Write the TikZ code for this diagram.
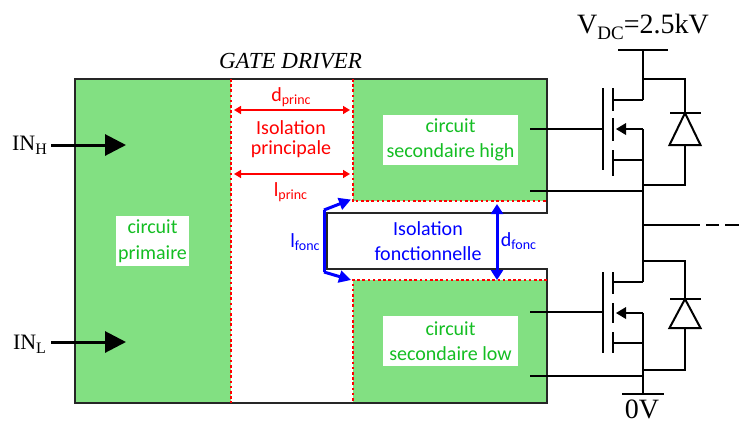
\documentclass[tikz,border=0pt]{standalone}
\usepackage{fontspec}
\setmainfont{Liberation Serif}
\newfontfamily\calibrifont{Carlito}
\usetikzlibrary{arrows.meta,positioning}
\definecolor{circuitfill}{RGB}{130,224,130}
\definecolor{circuittext}{RGB}{20,190,35}
\newcommand{\subtext}[3]{\raisebox{-#1pt}{\fontsize{#2}{#2}\selectfont #3}}
\begin{document}
\begin{tikzpicture}[x=1pt,y=-1pt]
\tikzstyle{circuit}=[fill=white,text=circuittext,font=\calibrifont\fontsize{20}{25.5}\selectfont,
align=center,inner sep=0pt]
\tikzstyle{wire}=[line width=2pt,draw=black]
\tikzstyle{reddots}=[draw=red,line width=2.5pt,dash pattern=on 2.6pt off 2.6pt]
\tikzstyle{redlabel}=[text=red,font=\calibrifont\fontsize{20}{20.5}\selectfont,align=center,inner sep=0pt]
\tikzstyle{bluelabel}=[text=blue,font=\calibrifont\fontsize{20}{24.5}\selectfont,align=center,inner sep=0pt]
\tikzstyle{serif}=[font=\fontsize{22}{22}\selectfont,inner sep=0pt,anchor=base]
\tikzstyle{inarrow}=[line width=3pt,-{Triangle[length=21pt,width=21pt]}]
\tikzstyle{redarrow}=[red,line width=1.5pt,{Triangle[length=7pt,width=8pt]}-{Triangle[length=7pt,width=8pt]}]
\tikzstyle{bluearrow}=[blue,line width=3pt,-{Triangle[length=12pt,width=12pt]}]
\useasboundingbox (0,0) rectangle (739,421);

% green blocks
\fill[circuitfill] (75,79) rectangle (231,403);
\fill[circuitfill] (353,79) rectangle (547,201);
\fill[circuitfill] (353,280) rectangle (547,403);
\draw[line width=2pt,black!85] (75,79) -- (547,79) -- (547,213) -- (327,213) -- (327,269)
  -- (547,269) -- (547,403) -- (75,403) -- cycle;
\draw[reddots] (231,79) -- (231,403);
\draw[reddots] (353,79) -- (353,201) -- (547,201);
\draw[reddots] (547,280) -- (353,280) -- (353,403);

% texts
\node[font=\itshape\fontsize{23}{23}\selectfont,inner sep=0pt,anchor=base] at (290.5,68) (title) {GATE DRIVER};
\node[circuit,minimum width=73pt,minimum height=50pt] at (152.5,241) (primaire) {circuit\\primaire};
\node[circuit,minimum width=135pt,minimum height=50pt] at (450.5,140) (high) {circuit\\secondaire high};
\node[circuit,minimum width=135pt,minimum height=50pt] at (450.5,341) (low) {circuit\\secondaire low};
\node[redlabel] at (291,139) (isoprinc) {Isolation\\principale};
\node[redlabel] at (291,97) (dprinc) {d\subtext{3}{14}{princ}};
\node[redlabel] at (290.5,192) (lprinc) {l\subtext{3}{14}{princ}};
\node[bluelabel] at (428,241) (isofonc) {Isolation\\fonctionnelle};
\node[bluelabel] at (305,242) (lfonc) {l\subtext{3}{14}{fonc}};
\node[bluelabel] at (518.5,241) (dfonc) {d\subtext{3}{14}{fonc}};

% red and blue dimensions
\coordinate (p1) at (234,110);
\coordinate (p2) at (350,110);
\coordinate (p3) at (234,174);
\coordinate (p4) at (350,174);
\draw[redarrow] (p1) -- (p2);
\draw[redarrow] (p3) -- (p4);
\coordinate (f1) at (324,210);
\coordinate (f2) at (324,272);
\coordinate (f3) at (351,199.5);
\coordinate (f4) at (351,280);
\draw[bluearrow,line join=round] (f1) -- (f3);
\draw[bluearrow,line join=round] (f2) -- (f4);
\draw[blue,line width=3pt] (f1) -- (f2);
\coordinate (f5) at (497,204);
\coordinate (f6) at (497,280);
\draw[blue,line width=3pt,{Triangle[length=10pt,width=12pt]}-{Triangle[length=10pt,width=12pt]}] (f5) -- (f6);

% inputs
\node[serif] at (29.5,150) (inh) {IN\subtext{4}{16}{H}};
\node[serif] at (29.5,349) (inl) {IN\subtext{4}{16}{L}};
\coordinate (inhtip) at (126,145);
\coordinate (inltip) at (126,342);
\draw[inarrow] (51,145) -- (inhtip);
\draw[inarrow] (51,342) -- (inltip);

% supply
\node[serif,font=\fontsize{28}{28}\selectfont] at (643,33) (vdc) {V\subtext{6}{19}{DC}=2.5kV};
\node[serif,font=\fontsize{28}{28}\selectfont] at (642,418) (zero) {0V};
\coordinate (top) at (643,50);
\coordinate (bot) at (643,394);
\draw[wire] (618,50) -- (668,50);
\draw[wire] (622,394) -- (664,394);
\draw[wire] (top) -- (643,100);
\draw[wire] (643,129) -- (643,282);
\draw[wire] (643,313) -- (bot);
\draw[wire] (643,225) -- (685,225);
\draw[wire,dash pattern=on 15pt off 6pt on 13pt off 6pt on 14pt off 0pt] (685,225) -- (739,225);

% high side mosfet
\draw[wire] (530,129) -- (603,129);
\draw[wire] (530,191) -- (643,191);
\draw[wire] (603,88) -- (603,170);
\draw[wire] (613,88) -- (613,111);
\draw[wire] (613,118) -- (613,141);
\draw[wire] (613,150) -- (613,176);
\draw[wire] (613,100) -- (643,100);
\draw[wire] (613,160) -- (643,160);
\draw[wire] (643,129) -- (625,129);
\fill (616,129) -- (626,123) -- (626,135) -- cycle;
\draw[wire] (643,79) -- (685,79) -- (685,113);
\draw[wire] (670,113) -- (701,113);
\draw[wire,line join=miter] (685,113) -- (669.5,145) -- (700.5,145) -- cycle;
\draw[wire] (685,145) -- (685,185) -- (643,185);

% low side mosfet
\draw[wire] (530,312) -- (603,312);
\draw[wire] (530,376) -- (643,376);
\draw[wire] (603,272) -- (603,353);
\draw[wire] (613,272) -- (613,294);
\draw[wire] (613,303) -- (613,323);
\draw[wire] (613,332) -- (613,353);
\draw[wire] (613,282) -- (643,282);
\draw[wire] (613,343) -- (643,343);
\draw[wire] (643,313) -- (625,313);
\fill (616,313) -- (626,307) -- (626,319) -- cycle;
\draw[wire] (643,261) -- (685,261) -- (685,299);
\draw[wire] (670,299) -- (701,299);
\draw[wire,line join=miter] (685,299) -- (669.5,328) -- (700.5,328) -- cycle;
\draw[wire] (685,328) -- (685,370) -- (643,370);
\end{tikzpicture}
\end{document}
